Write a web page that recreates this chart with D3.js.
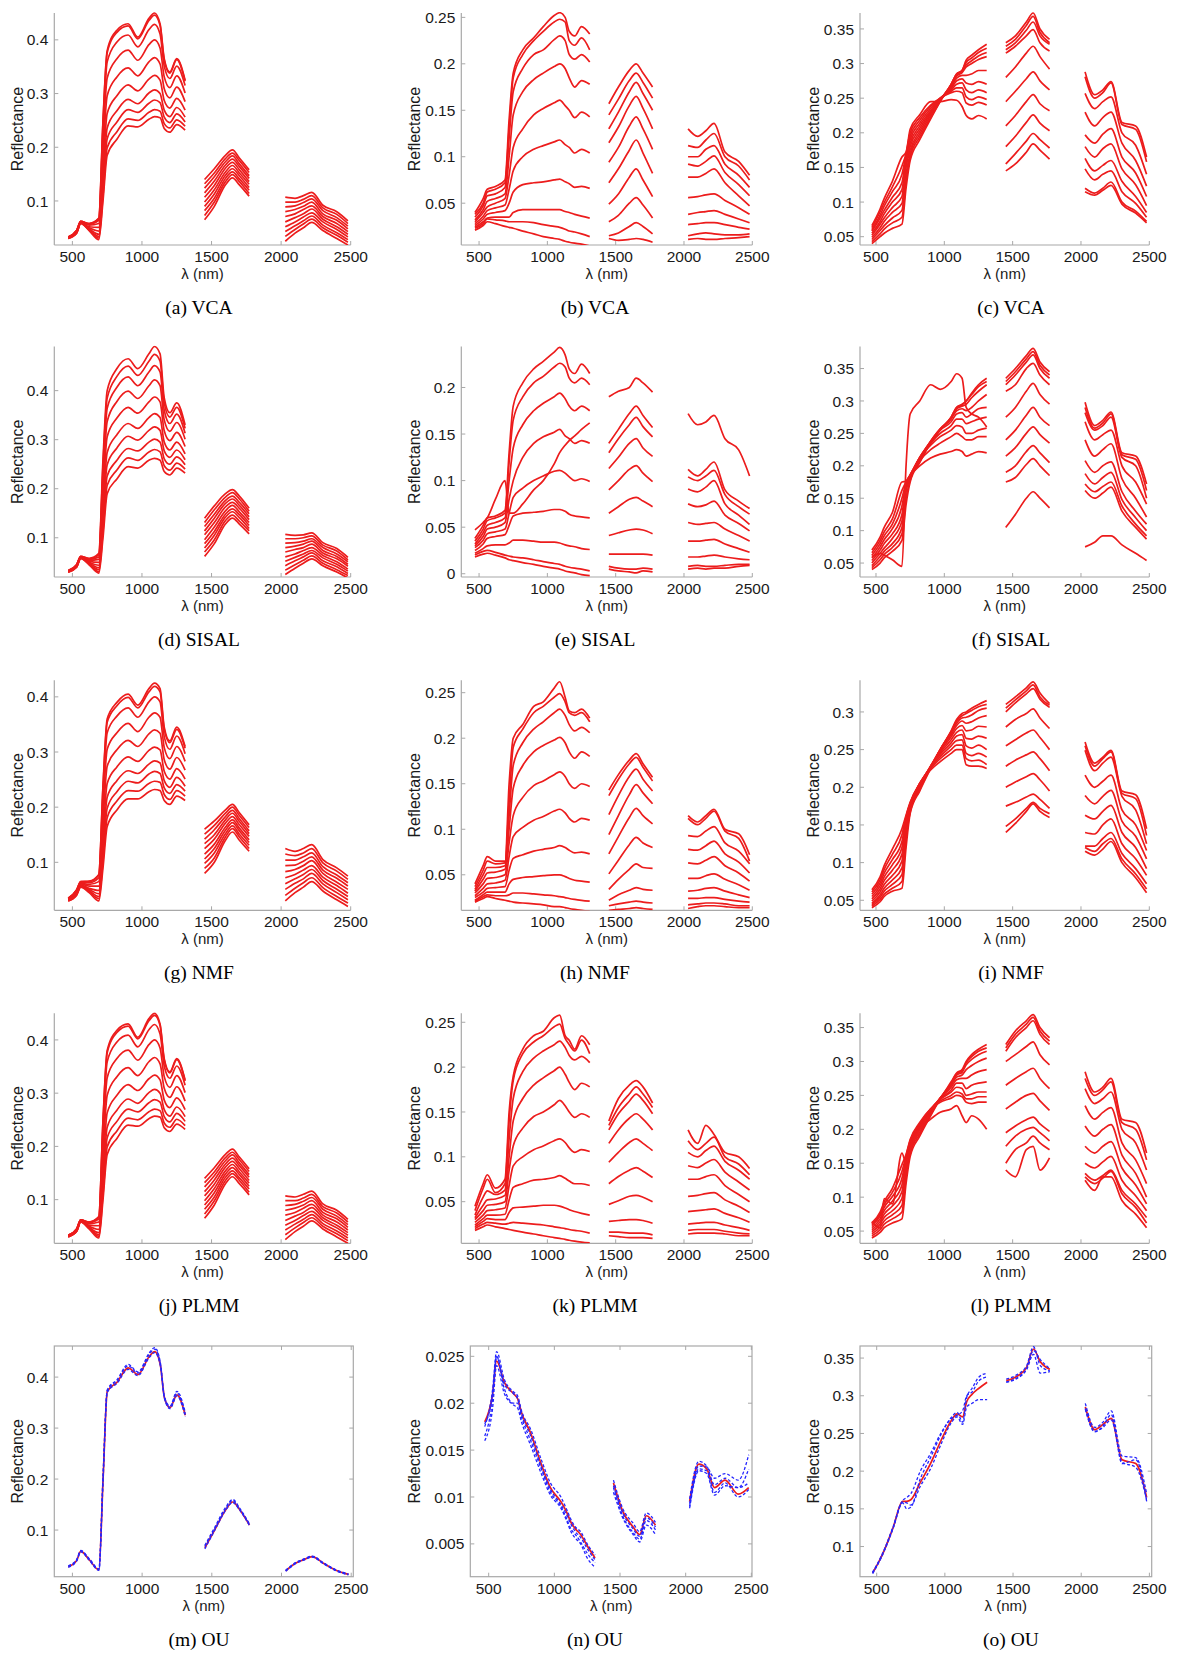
<!DOCTYPE html>
<html><head><meta charset="utf-8">
<script src="https://cdn.jsdelivr.net/npm/d3@7"></script>
<style>body{margin:0;background:#fff}svg{display:block}</style>
</head><body>
<svg id="chart" width="1179" height="1657"></svg>
<script>
// ---------- DATA ----------
const wavelengths = [470,530,560,620,690,720,750,820,900,970,1050,1090,1130,1160,1200,1250,1310,
  1450,1520,1600,1650,1700,1770,
  2030,2100,2160,2220,2300,2400,2480];
const xTickValues = [500,1000,1500,2000,2500];

const spectraA = [
[.033,.045,.062,.058,.068,.25,.38,.418,.43,.405,.44,.45,.43,.365,.34,.365,.325, .14,.16,.185,.195,.18,.158, .107,.105,.11,.116,.092,.08,.063],
[.033,.045,.062,.058,.067,.247,.376,.414,.426,.402,.436,.446,.427,.362,.338,.363,.323, .132,.152,.179,.189,.175,.153, .098,.098,.103,.11,.087,.075,.058],
[.033,.044,.062,.057,.064,.234,.359,.396,.409,.387,.419,.429,.411,.351,.328,.351,.315, .124,.145,.173,.184,.169,.147, .089,.091,.097,.104,.082,.069,.053],
[.032,.044,.061,.055,.058,.211,.329,.365,.381,.362,.391,.4,.385,.331,.311,.333,.301, .115,.137,.167,.178,.164,.142, .08,.084,.09,.098,.076,.064,.048],
[.032,.043,.06,.052,.051,.186,.296,.331,.348,.333,.359,.367,.355,.309,.292,.312,.285, .107,.129,.161,.172,.158,.136, .071,.076,.084,.091,.071,.058,.043],
[.031,.042,.06,.05,.044,.16,.263,.296,.316,.305,.327,.334,.325,.287,.273,.291,.269, .098,.121,.154,.166,.152,.131, .061,.069,.076,.085,.066,.052,.038],
[.031,.041,.059,.048,.038,.139,.236,.268,.289,.281,.301,.307,.3,.269,.257,.274,.256, .09,.113,.148,.16,.147,.125, .052,.061,.07,.078,.061,.047,.033],
[.031,.041,.059,.047,.034,.124,.216,.247,.27,.265,.282,.288,.283,.256,.246,.262,.247, .082,.105,.142,.154,.141,.12, .043,.054,.063,.072,.055,.041,.028],
[.03,.04,.058,.046,.031,.11,.199,.229,.253,.25,.265,.27,.267,.244,.236,.251,.239, .073,.098,.136,.149,.136,.114, .034,.047,.057,.066,.05,.036,.023],
[.03,.04,.058,.045,.028,.1,.185,.215,.24,.238,.252,.257,.255,.235,.228,.242,.232, .065,.09,.13,.143,.13,.109, .025,.04,.05,.06,.045,.03,.018]
];
const spectraB = [
[.04,.055,.065,.068,.075,.14,.19,.215,.228,.24,.252,.255,.25,.235,.23,.24,.232, .157,.175,.193,.2,.19,.175, .13,.122,.128,.136,.105,.095,.08],
[.038,.05,.062,.065,.072,.13,.185,.21,.225,.235,.245,.248,.245,.225,.22,.228,.215, .145,.162,.182,.19,.18,.163, .112,.11,.118,.125,.1,.09,.075],
[.035,.047,.058,.06,.067,.12,.17,.195,.21,.215,.226,.23,.225,.21,.205,.21,.202, .13,.148,.17,.18,.168,.15, .1,.1,.108,.112,.092,.08,.067],
[.032,.043,.052,.055,.06,.1,.145,.17,.183,.19,.197,.2,.195,.185,.175,.182,.178, .115,.132,.155,.165,.152,.13, .092,.09,.095,.101,.083,.07,.058],
[.03,.04,.046,.05,.055,.08,.11,.13,.145,.152,.158,.161,.155,.15,.142,.148,.143, .094,.11,.133,.143,.13,.108, .078,.078,.082,.087,.072,.058,.047],
[.028,.036,.042,.045,.048,.065,.085,.1,.108,.112,.116,.118,.113,.11,.104,.108,.104, .072,.087,.107,.118,.104,.082, .056,.057,.059,.06,.053,.045,.038],
[.026,.033,.038,.04,.042,.05,.062,.07,.072,.073,.075,.076,.073,.071,.067,.068,.066, .049,.06,.078,.087,.075,.057, .038,.04,.041,.042,.038,.033,.029],
[.024,.03,.034,.035,.035,.035,.04,.043,.043,.043,.043,.043,.041,.04,.038,.036,.034, .03,.037,.05,.056,.048,.034, .027,.028,.029,.029,.027,.024,.022],
[.023,.028,.033,.032,.031,.03,.03,.03,.029,.027,.025,.024,.022,.02,.019,.017,.014, .015,.018,.025,.029,.025,.017, .015,.017,.018,.017,.016,.016,.017],
[.021,.026,.03,.028,.025,.024,.023,.02,.017,.014,.012,.011,.009,.008,.007,.006,.004, .012,.01,.011,.012,.011,.008, .011,.012,.011,.011,.012,.013,.014]
];
const spectraC = [
[.04,.05,.055,.062,.068,.12,.16,.19,.22,.245,.27,.285,.29,.305,.312,.32,.328, .33,.34,.36,.373,.35,.335, .288,.255,.262,.274,.215,.21,.165],
[.043,.054,.061,.07,.078,.13,.165,.194,.222,.246,.27,.285,.29,.302,.308,.316,.322, .325,.335,.355,.368,.345,.33, .281,.25,.258,.272,.212,.205,.158],
[.046,.059,.066,.077,.088,.14,.17,.198,.225,.247,.27,.284,.289,.298,.304,.311,.316, .32,.33,.348,.36,.34,.328, .257,.235,.245,.252,.2,.182,.14],
[.049,.063,.072,.085,.098,.15,.175,.202,.228,.248,.268,.282,.287,.295,.3,.306,.31, .315,.325,.34,.349,.33,.318, .23,.21,.222,.23,.185,.16,.123],
[.052,.068,.077,.092,.108,.155,.18,.206,.23,.248,.266,.279,.283,.283,.285,.29,.29, .28,.295,.315,.325,.31,.292, .197,.185,.198,.206,.165,.142,.108],
[.055,.072,.083,.1,.118,.16,.185,.21,.232,.249,.264,.275,.278,.272,.27,.274,.27, .245,.26,.278,.288,.275,.262, .18,.165,.177,.184,.148,.125,.095],
[.058,.077,.088,.107,.128,.165,.19,.214,.235,.25,.262,.27,.272,.262,.258,.262,.258, .21,.225,.245,.255,.242,.232, .163,.145,.153,.16,.13,.108,.085],
[.06,.081,.094,.115,.14,.168,.195,.218,.238,.25,.26,.265,.265,.252,.248,.252,.248, .18,.195,.215,.226,.214,.203, .148,.132,.14,.145,.115,.098,.078],
[.063,.086,.099,.122,.152,.17,.2,.222,.24,.25,.258,.26,.258,.243,.24,.244,.24, .155,.17,.188,.199,.19,.178, .12,.113,.12,.129,.1,.087,.072],
[.066,.09,.105,.13,.165,.172,.205,.226,.245,.245,.248,.247,.238,.225,.22,.225,.22, .145,.155,.172,.184,.175,.162, .115,.11,.117,.124,.097,.084,.07]
];
const spectraD = [
[.033,.045,.062,.058,.068,.26,.4,.445,.465,.445,.475,.49,.475,.385,.355,.375,.33, .14,.165,.19,.198,.185,.16, .107,.105,.106,.11,.09,.078,.06],
[.033,.045,.062,.057,.065,.249,.385,.429,.45,.431,.46,.474,.46,.375,.346,.366,.323, .131,.157,.183,.192,.179,.154, .098,.098,.1,.104,.085,.073,.055],
[.032,.044,.061,.056,.061,.233,.364,.407,.428,.41,.438,.451,.438,.36,.333,.352,.313, .123,.148,.176,.185,.172,.149, .089,.09,.093,.098,.08,.067,.051],
[.032,.044,.061,.054,.056,.212,.337,.378,.399,.384,.41,.422,.41,.34,.317,.335,.301, .114,.14,.17,.179,.166,.143, .08,.083,.087,.093,.074,.062,.046],
[.032,.043,.06,.052,.05,.188,.306,.344,.366,.354,.377,.387,.377,.318,.298,.315,.286, .106,.131,.163,.172,.16,.137, .071,.076,.08,.087,.069,.057,.042],
[.031,.042,.06,.05,.044,.164,.274,.31,.333,.323,.345,.353,.345,.295,.279,.295,.271, .096,.122,.155,.166,.153,.131, .061,.067,.074,.08,.064,.051,.036],
[.031,.041,.059,.049,.039,.145,.249,.283,.307,.299,.319,.326,.319,.277,.264,.279,.259, .088,.113,.148,.159,.147,.125, .052,.06,.067,.074,.059,.046,.032],
[.031,.041,.059,.047,.035,.127,.226,.258,.282,.277,.295,.301,.295,.261,.25,.265,.249, .079,.105,.142,.153,.141,.119, .043,.053,.061,.069,.053,.041,.027],
[.03,.04,.058,.046,.031,.113,.207,.238,.263,.258,.275,.28,.275,.247,.238,.252,.24, .071,.096,.135,.146,.134,.114, .034,.045,.054,.063,.048,.035,.023],
[.03,.04,.058,.045,.028,.1,.19,.22,.245,.242,.258,.262,.258,.235,.228,.242,.232, .062,.088,.128,.14,.128,.108, .025,.038,.048,.057,.043,.03,.018]
];
const spectraE = [
[.038,.052,.06,.062,.068,.13,.18,.205,.22,.228,.238,.243,.235,.22,.215,.225,.215, .14,.155,.172,.18,.17,.157, .112,.105,.112,.12,.09,.078,.07],
[.035,.048,.057,.06,.065,.12,.165,.19,.205,.212,.222,.226,.222,.21,.205,.21,.203, .13,.145,.16,.168,.158,.147, .104,.1,.105,.111,.085,.072,.064],
[.032,.044,.052,.055,.06,.1,.135,.16,.175,.183,.19,.194,.188,.18,.175,.18,.175, .113,.125,.14,.145,.135,.126, .091,.088,.093,.1,.075,.063,.053],
[.03,.04,.048,.05,.055,.08,.1,.125,.14,.147,.152,.155,.148,.145,.14,.143,.14, .09,.1,.112,.116,.108,.099, .075,.072,.074,.078,.063,.054,.046],
[.028,.036,.043,.045,.048,.065,.082,.092,.1,.105,.11,.111,.108,.104,.1,.102,.099, .065,.072,.08,.082,.078,.072, .055,.053,.054,.055,.048,.041,.035],
[.025,.032,.038,.04,.042,.052,.062,.065,.066,.067,.069,.069,.067,.064,.062,.061,.06, .041,.044,.047,.048,.047,.043, .035,.035,.036,.037,.032,.027,.023],
[.022,.027,.03,.031,.031,.033,.036,.036,.035,.034,.034,.033,.031,.03,.029,.027,.026, .021,.021,.021,.021,.021,.02, .018,.018,.019,.02,.018,.016,.015],
[.02,.024,.025,.023,.02,.019,.018,.017,.015,.013,.011,.01,.008,.007,.006,.005,.003, .008,.006,.005,.005,.006,.005, .008,.009,.008,.008,.009,.01,.01],
[.018,.021,.022,.02,.017,.015,.014,.012,.01,.008,.006,.005,.003,.002,.001,-.001,-.002, .005,.003,.002,.001,.003,.002, .005,.006,.005,.006,.006,.008,.009],
[.047,.055,.06,.08,.1,.065,.065,.075,.09,.1,.118,.13,.138,.143,.148,.155,.162, .19,.196,.2,.21,.205,.195, .172,.16,.163,.17,.145,.133,.105]
];
const spectraF = [
[.04,.05,.058,.068,.085,.14,.175,.205,.235,.255,.275,.29,.295,.3,.312,.325,.335, .335,.35,.37,.381,.36,.345, .298,.262,.27,.283,.22,.215,.172],
[.043,.055,.063,.074,.095,.15,.178,.207,.236,.256,.275,.29,.294,.3,.31,.322,.33, .33,.345,.365,.376,.355,.34, .29,.258,.266,.28,.217,.21,.162],
[.046,.06,.068,.08,.105,.16,.18,.21,.238,.257,.274,.288,.292,.295,.305,.315,.325, .325,.34,.36,.371,.35,.335, .282,.255,.262,.275,.213,.2,.15],
[.05,.065,.073,.088,.115,.165,.182,.212,.238,.257,.272,.285,.288,.285,.29,.3,.31, .315,.325,.35,.358,.34,.325, .268,.24,.248,.255,.2,.175,.141],
[.054,.07,.08,.095,.125,.17,.184,.213,.237,.255,.268,.28,.282,.275,.28,.288,.29, .275,.29,.315,.327,.31,.295, .24,.215,.225,.234,.18,.15,.121],
[.058,.075,.086,.103,.138,.172,.185,.213,.235,.25,.262,.272,.272,.265,.268,.272,.275, .24,.255,.278,.29,.275,.262, .208,.19,.2,.206,.16,.13,.11],
[.062,.08,.092,.11,.15,.174,.186,.212,.232,.245,.255,.262,.26,.25,.25,.255,.258, .215,.228,.25,.26,.248,.235, .188,.172,.182,.19,.148,.12,.1],
[.066,.085,.098,.118,.162,.175,.186,.208,.225,.235,.245,.25,.245,.24,.24,.245,.245, .19,.2,.222,.231,.22,.205, .172,.16,.168,.175,.138,.11,.092],
[.07,.09,.105,.128,.175,.176,.185,.2,.212,.218,.222,.225,.222,.215,.218,.222,.22, .175,.182,.202,.211,.2,.185, .162,.15,.158,.167,.13,.105,.087],
[.06,.065,.062,.055,.045,.2,.28,.3,.325,.318,.33,.342,.335,.29,.28,.275,.26, .105,.125,.15,.16,.15,.135, .075,.082,.092,.092,.078,.065,.054]
];
const spectraG = [
[.035,.05,.065,.066,.078,.24,.36,.39,.405,.385,.415,.425,.415,.345,.32,.345,.31, .16,.175,.195,.205,.19,.168, .125,.12,.125,.132,.105,.09,.075],
[.035,.05,.065,.065,.077,.236,.354,.384,.399,.38,.409,.419,.409,.341,.317,.341,.307, .151,.167,.189,.2,.185,.163, .115,.112,.117,.125,.099,.084,.069],
[.034,.049,.064,.063,.072,.221,.335,.365,.38,.363,.391,.4,.391,.328,.305,.329,.297, .142,.159,.183,.194,.179,.157, .104,.104,.11,.117,.092,.077,.063],
[.034,.047,.062,.06,.065,.198,.305,.335,.352,.337,.363,.371,.363,.308,.288,.31,.283, .134,.15,.177,.189,.174,.152, .094,.095,.102,.11,.086,.071,.057],
[.033,.046,.061,.057,.057,.174,.274,.304,.321,.31,.333,.34,.334,.286,.269,.29,.267, .125,.142,.171,.183,.168,.147, .083,.087,.094,.103,.08,.064,.051],
[.032,.044,.059,.053,.049,.15,.243,.273,.291,.283,.303,.309,.304,.265,.251,.27,.251, .115,.133,.164,.177,.162,.141, .072,.078,.086,.094,.073,.058,.044],
[.031,.043,.058,.051,.043,.131,.218,.248,.266,.261,.278,.284,.28,.248,.236,.254,.238, .106,.125,.158,.172,.157,.136, .061,.07,.078,.087,.067,.051,.038],
[.031,.042,.057,.049,.038,.116,.198,.228,.247,.244,.26,.265,.261,.235,.225,.241,.229, .098,.117,.152,.166,.151,.131, .051,.062,.07,.08,.061,.045,.032],
[.03,.041,.056,.047,.034,.102,.181,.211,.23,.229,.243,.247,.245,.223,.214,.23,.22, .089,.108,.146,.161,.146,.125, .04,.053,.063,.072,.054,.038,.026],
[.03,.04,.055,.045,.03,.09,.165,.195,.215,.215,.228,.232,.23,.212,.205,.22,.212, .08,.1,.14,.155,.14,.12, .03,.045,.055,.065,.048,.032,.02]
];
const spectraH = [
[.04,.06,.07,.065,.065,.15,.2,.215,.235,.24,.255,.262,.245,.23,.228,.232,.222, .143,.16,.176,.183,.172,.157, .115,.108,.115,.122,.1,.095,.072],
[.037,.055,.065,.062,.063,.13,.19,.21,.228,.235,.245,.249,.24,.228,.225,.228,.218, .137,.155,.172,.179,.168,.153, .112,.105,.112,.12,.098,.09,.065],
[.034,.05,.058,.058,.06,.115,.17,.195,.21,.218,.228,.232,.225,.215,.208,.212,.206, .116,.137,.158,.166,.155,.142, .093,.092,.098,.103,.085,.076,.062],
[.032,.045,.052,.053,.056,.1,.145,.17,.185,.192,.198,.201,.195,.185,.178,.185,.18, .094,.115,.138,.149,.14,.128, .078,.077,.082,.087,.073,.064,.052],
[.03,.04,.046,.047,.05,.085,.115,.135,.148,.153,.16,.163,.158,.15,.145,.15,.147, .073,.092,.113,.123,.115,.106, .063,.062,.066,.07,.06,.052,.043],
[.027,.035,.04,.041,.044,.07,.092,.102,.11,.114,.12,.122,.118,.112,.108,.112,.11, .051,.066,.083,.091,.085,.08, .046,.046,.049,.051,.045,.039,.033],
[.025,.031,.035,.036,.037,.055,.068,.072,.076,.078,.08,.082,.08,.077,.074,.075,.073, .034,.045,.056,.062,.058,.057, .032,.033,.035,.036,.032,.028,.025],
[.022,.028,.031,.031,.031,.04,.045,.047,.048,.049,.05,.05,.048,.046,.044,.043,.042, .022,.028,.033,.036,.034,.033, .024,.024,.025,.025,.023,.021,.02],
[.021,.026,.028,.027,.027,.028,.03,.03,.029,.028,.027,.026,.025,.024,.023,.022,.021, .016,.018,.02,.021,.02,.019, .017,.018,.019,.019,.018,.016,.016],
[.02,.024,.026,.024,.022,.021,.02,.019,.018,.017,.015,.015,.014,.013,.012,.011,.01, .011,.012,.013,.014,.013,.012, .013,.015,.016,.016,.015,.014,.014]
];
const spectraI = [
[.04,.048,.055,.062,.066,.12,.165,.195,.225,.25,.275,.29,.298,.3,.305,.31,.315, .31,.32,.332,.34,.325,.311, .26,.232,.24,.249,.195,.19,.145],
[.042,.051,.058,.066,.075,.13,.167,.197,.226,.25,.274,.288,.295,.298,.302,.307,.31, .305,.316,.328,.336,.32,.309, .255,.228,.238,.247,.192,.185,.136],
[.044,.054,.062,.071,.084,.137,.169,.199,.227,.25,.273,.285,.292,.293,.296,.302,.305, .3,.312,.324,.331,.317,.306, .249,.222,.232,.24,.188,.17,.125],
[.046,.057,.066,.077,.093,.143,.171,.2,.228,.25,.27,.282,.288,.285,.287,.292,.295, .28,.29,.298,.304,.292,.278, .216,.2,.208,.216,.17,.15,.116],
[.049,.061,.071,.083,.102,.148,.173,.202,.228,.248,.267,.278,.282,.275,.276,.281,.28, .255,.263,.272,.276,.266,.25, .189,.178,.188,.196,.155,.135,.105],
[.052,.065,.076,.09,.111,.152,.175,.203,.228,.246,.263,.273,.276,.265,.264,.268,.265, .228,.236,.243,.247,.238,.222, .163,.158,.168,.176,.14,.12,.092],
[.055,.069,.081,.097,.12,.156,.177,.204,.227,.244,.259,.268,.27,.255,.252,.256,.25, .2,.207,.214,.218,.21,.195, .14,.138,.15,.158,.125,.105,.083],
[.058,.073,.086,.104,.128,.159,.178,.205,.226,.241,.255,.262,.263,.245,.242,.245,.24, .175,.18,.187,.191,.184,.172, .122,.122,.132,.14,.112,.092,.072],
[.061,.077,.091,.111,.137,.161,.179,.205,.225,.238,.25,.256,.256,.238,.235,.236,.23, .148,.158,.172,.18,.172,.165, .12,.115,.125,.132,.105,.085,.065],
[.064,.081,.096,.118,.145,.163,.18,.205,.223,.234,.245,.25,.25,.23,.228,.228,.225, .14,.152,.168,.178,.168,.16, .115,.11,.118,.128,.1,.08,.06]
];
const spectraJ = [
[.033,.045,.062,.058,.068,.25,.38,.418,.43,.405,.44,.45,.43,.365,.34,.365,.325, .14,.16,.185,.195,.18,.158, .107,.105,.11,.116,.092,.08,.063],
[.033,.045,.062,.058,.067,.247,.376,.414,.426,.402,.436,.446,.427,.362,.338,.363,.323, .132,.152,.179,.189,.175,.153, .098,.098,.103,.11,.087,.075,.058],
[.033,.044,.062,.057,.064,.234,.359,.396,.409,.387,.419,.429,.411,.351,.328,.351,.315, .124,.145,.173,.184,.169,.147, .089,.091,.097,.104,.082,.069,.053],
[.032,.044,.061,.055,.058,.211,.329,.365,.381,.362,.391,.4,.385,.331,.311,.333,.301, .115,.137,.167,.178,.164,.142, .08,.084,.09,.098,.076,.064,.048],
[.032,.043,.06,.052,.051,.186,.296,.331,.348,.333,.359,.367,.355,.309,.292,.312,.285, .107,.129,.161,.172,.158,.136, .071,.076,.084,.091,.071,.058,.043],
[.031,.042,.06,.05,.044,.16,.263,.296,.316,.305,.327,.334,.325,.287,.273,.291,.269, .098,.121,.154,.166,.152,.131, .061,.069,.076,.085,.066,.052,.038],
[.031,.041,.059,.048,.038,.139,.236,.268,.289,.281,.301,.307,.3,.269,.257,.274,.256, .09,.113,.148,.16,.147,.125, .052,.061,.07,.078,.061,.047,.033],
[.031,.041,.059,.047,.034,.124,.216,.247,.27,.265,.282,.288,.283,.256,.246,.262,.247, .082,.105,.142,.154,.141,.12, .043,.054,.063,.072,.055,.041,.028],
[.03,.04,.058,.046,.031,.11,.199,.229,.253,.25,.265,.27,.267,.244,.236,.251,.239, .073,.098,.136,.149,.136,.114, .034,.047,.057,.066,.05,.036,.023],
[.03,.04,.058,.045,.028,.1,.185,.215,.24,.238,.252,.257,.255,.235,.228,.242,.232, .065,.09,.13,.143,.13,.109, .025,.04,.05,.06,.045,.03,.018]
];
const spectraK = [
[.045,.07,.08,.065,.075,.15,.19,.22,.235,.24,.255,.258,.235,.23,.22,.235,.225, .14,.165,.18,.185,.178,.16, .13,.115,.135,.125,.105,.1,.087],
[.04,.065,.075,.06,.07,.14,.185,.215,.228,.235,.245,.248,.232,.225,.218,.23,.215, .135,.155,.17,.178,.17,.155, .118,.108,.115,.122,.1,.092,.08],
[.035,.055,.062,.058,.063,.12,.165,.195,.21,.218,.225,.229,.222,.213,.208,.212,.205, .13,.148,.162,.17,.163,.148, .105,.1,.107,.112,.095,.085,.075],
[.032,.046,.052,.053,.057,.1,.14,.165,.18,.188,.196,.2,.192,.183,.175,.182,.178, .115,.13,.143,.148,.142,.13, .09,.088,.093,.097,.083,.072,.063],
[.03,.04,.046,.047,.05,.085,.112,.132,.145,.15,.158,.163,.157,.15,.144,.148,.144, .094,.105,.116,.12,.115,.107, .075,.075,.078,.08,.068,.058,.05],
[.027,.035,.04,.041,.043,.068,.09,.1,.108,.112,.118,.12,.116,.11,.105,.108,.106, .07,.078,.085,.088,.084,.077, .056,.057,.059,.06,.052,.045,.038],
[.024,.031,.035,.035,.036,.052,.066,.07,.074,.075,.077,.079,.076,.073,.07,.07,.068, .047,.051,.056,.057,.055,.05, .039,.04,.041,.042,.037,.032,.027],
[.022,.028,.031,.03,.03,.038,.043,.044,.045,.046,.046,.045,.043,.041,.039,.037,.035, .028,.029,.03,.03,.029,.026, .025,.026,.027,.027,.024,.021,.018],
[.02,.025,.027,.026,.025,.026,.027,.026,.025,.024,.022,.021,.02,.019,.018,.017,.015, .016,.016,.015,.015,.015,.013, .018,.019,.019,.019,.017,.015,.014],
[.018,.022,.024,.022,.02,.019,.018,.016,.014,.012,.01,.009,.008,.007,.006,.005,.004, .012,.011,.01,.01,.01,.009, .014,.015,.015,.015,.014,.012,.012]
];
const spectraL = [
[.04,.048,.055,.062,.068,.12,.16,.19,.22,.245,.27,.283,.288,.3,.31,.318,.325, .325,.345,.36,.369,.35,.335, .285,.255,.262,.275,.215,.21,.165],
[.043,.052,.06,.068,.078,.13,.165,.193,.222,.245,.268,.282,.286,.298,.307,.315,.32, .32,.34,.355,.365,.345,.33, .275,.25,.258,.27,.21,.2,.155],
[.046,.056,.065,.074,.088,.138,.168,.196,.224,.246,.267,.28,.284,.295,.303,.31,.315, .315,.335,.35,.36,.34,.325, .26,.238,.245,.255,.2,.18,.14],
[.049,.06,.07,.08,.098,.145,.172,.2,.226,.246,.265,.277,.28,.288,.294,.3,.305, .3,.31,.322,.329,.31,.295, .235,.215,.225,.232,.18,.155,.12],
[.052,.064,.075,.087,.108,.15,.175,.203,.228,.246,.262,.273,.275,.275,.28,.285,.288, .265,.275,.285,.29,.275,.26, .205,.19,.2,.207,.162,.135,.1],
[.055,.068,.08,.094,.118,.155,.178,.205,.229,.245,.258,.268,.268,.26,.265,.268,.27, .23,.24,.25,.253,.242,.228, .175,.165,.175,.182,.143,.118,.09],
[.058,.072,.085,.101,.128,.158,.181,.207,.23,.244,.255,.262,.26,.25,.252,.255,.255, .195,.205,.214,.218,.208,.197, .15,.143,.152,.16,.125,.102,.08],
[.06,.075,.089,.107,.138,.161,.183,.208,.23,.242,.25,.255,.252,.245,.245,.248,.248, .175,.19,.2,.203,.195,.183, .135,.125,.132,.14,.11,.09,.07],
[.062,.078,.093,.113,.148,.163,.185,.21,.23,.24,.246,.25,.248,.24,.238,.24,.24, .15,.17,.18,.19,.18,.17, .13,.12,.128,.138,.105,.085,.062],
[.064,.055,.098,.09,.165,.15,.17,.2,.215,.225,.23,.235,.22,.21,.22,.215,.2, .14,.13,.17,.175,.14,.158, .125,.11,.13,.13,.095,.075,.055]
];
// OU panels: first row = reference (red, solid), following rows = estimates (blue, dashed)
const spectraM = [
[.028,.04,.058,.042,.022,.2,.372,.39,.418,.405,.44,.45,.425,.36,.34,.365,.325, .065,.1,.14,.155,.14,.11, .02,.035,.042,.048,.035,.02,.013],
[.03,.042,.06,.044,.024,.21,.375,.395,.425,.41,.447,.458,.43,.362,.343,.372,.33, .07,.105,.145,.16,.143,.112, .021,.036,.043,.049,.036,.021,.014],
[.029,.041,.059,.043,.023,.205,.373,.393,.422,.408,.444,.455,.428,.36,.341,.369,.327, .068,.102,.142,.158,.141,.111, .02,.035,.043,.048,.035,.02,.013],
[.027,.039,.057,.041,.021,.195,.37,.388,.415,.403,.438,.448,.423,.358,.338,.363,.322, .063,.099,.139,.154,.139,.109, .019,.034,.041,.047,.034,.019,.012]
];
const spectraN = [
[.018,.021,.0245,.0222,.021,.0205,.019,.0168,.0135,.011,.0095,.0085,.0072,.0066,.006,.0048,.0035, .0115,.0085,.0068,.006,.008,.007, .0095,.0135,.013,.011,.0118,.0103,.011],
[.0165,.0205,.025,.0215,.02,.02,.0185,.016,.013,.0105,.009,.0078,.0065,.006,.0052,.004,.003, .011,.008,.0062,.0055,.0075,.0065, .009,.013,.0128,.0105,.0115,.01,.0108],
[.0175,.0215,.0255,.0225,.0212,.0208,.0192,.0172,.014,.0115,.01,.0088,.0075,.0068,.0063,.005,.0038, .0118,.0088,.0072,.0063,.0083,.0073, .0098,.0138,.0133,.0113,.012,.011,.0115],
[.016,.0195,.024,.021,.0198,.0195,.018,.0155,.0125,.0102,.0088,.0076,.0062,.0056,.005,.0035,.0025, .0105,.0078,.006,.0052,.007,.006, .0088,.0128,.0125,.0102,.0112,.011,.013],
[.0178,.021,.025,.022,.021,.0205,.0188,.0165,.0132,.0108,.0092,.0082,.007,.0063,.0057,.0045,.0033, .0112,.0083,.0066,.0058,.0078,.0068, .0093,.0133,.0132,.012,.0125,.0118,.0145]
];
const spectraO = [
[.065,.085,.097,.125,.16,.16,.162,.185,.212,.24,.268,.276,.272,.292,.302,.31,.318, .32,.325,.338,.362,.345,.335, .285,.255,.262,.27,.215,.21,.165],
[.066,.086,.098,.126,.158,.15,.152,.19,.22,.248,.272,.278,.265,.298,.31,.325,.33, .322,.327,.34,.365,.34,.333, .29,.258,.265,.28,.22,.218,.17],
[.064,.084,.096,.124,.161,.165,.17,.2,.225,.25,.27,.274,.28,.3,.305,.32,.325, .318,.323,.336,.36,.348,.336, .282,.252,.26,.275,.21,.215,.16],
[.065,.085,.097,.125,.159,.158,.155,.18,.205,.235,.265,.272,.262,.285,.29,.295,.295, .318,.322,.335,.355,.33,.332, .283,.253,.258,.268,.212,.205,.162]
];

const yTicks4 = [0.1,0.2,0.3,0.4];
const yTicks25 = [0.05,0.1,0.15,0.2,0.25];
const yTicks35 = [0.05,0.1,0.15,0.2,0.25,0.3,0.35];
const yTicks30 = [0.05,0.1,0.15,0.2,0.25,0.3];
const yTicksE = [0,0.05,0.1,0.15,0.2];
const yTicksN = [0.005,0.01,0.015,0.02,0.025];
const yTicksO = [0.1,0.15,0.2,0.25,0.3,0.35];

const captions = ["(a) VCA","(b) VCA","(c) VCA","(d) SISAL","(e) SISAL","(f) SISAL",
  "(g) NMF","(h) NMF","(i) NMF","(j) PLMM","(k) PLMM","(l) PLMM","(m) OU","(n) OU","(o) OU"];
const yDomains = [[0.018,0.45],[0.005,0.2547],[0.038,0.373],
  [0.02,0.49],[-0.0035,0.244],[0.0285,0.384],
  [0.013,0.43],[0.011,0.2636],[0.0367,0.342],
  [0.018,0.45],[0.0036,0.26],[0.032,0.371],
  [0.0085,0.461],[0.0015,0.0261],[0.06,0.366]];
const xDomains = [[370,2500],[370,2500],[383,2500],[370,2500],[370,2500],[383,2500],
  [370,2500],[370,2500],[383,2500],[370,2500],[370,2500],[383,2500],
  [370,2515],[360,2505],[377.5,2517]];
const allSpectra = [spectraA,spectraB,spectraC,spectraD,spectraE,spectraF,spectraG,spectraH,
  spectraI,spectraJ,spectraK,spectraL,spectraM,spectraN,spectraO];
const allYTicks = [yTicks4,yTicks25,yTicks35,yTicks4,yTicksE,yTicks35,yTicks4,yTicks25,yTicks30,
  yTicks4,yTicks25,yTicks35,yTicks4,yTicksN,yTicksO];

// ---------- LAYOUT ----------
const rowsY = [[13,245],[346.5,577],[680.3,910.3],[1013.3,1243.3],[1346,1576.7]];
const colsX = [[54.3,350.7],[461.3,752.3],[860,1149.3]];
const row5X = [[54.3,353.3],[470.3,752],[860,1151.7]];
const ylabOffset = [[37,47,46.5],[37,56,46.5]];
const capX = [199,595,1011];

const svg = d3.select("#chart");
const red = "#ec1c1c", blue = "#2424ff", axisCol = "#a8a8a8";
const fmt = d3.format("~g");
const sans = "'Liberation Sans', Arial, sans-serif";

allSpectra.forEach((spectra, p) => {
  const row = Math.floor(p/3), col = p%3;
  const isOU = row === 4;
  const [L, R] = isOU ? row5X[col] : colsX[col];
  const [T, B] = rowsY[row];
  const x = d3.scaleLinear().domain(xDomains[p]).range([L, R]);
  const y = d3.scaleLinear().domain(yDomains[p]).range([B, T]);
  const g = svg.append("g");
  const clipId = "clip" + p;
  g.append("clipPath").attr("id", clipId).append("rect")
    .attr("x", L).attr("y", T-1).attr("width", R-L).attr("height", B-T+1);

  if (isOU) {
    g.append("rect").attr("x", L).attr("y", T).attr("width", R-L).attr("height", B-T)
      .attr("fill","none").attr("stroke", axisCol).attr("stroke-width",1.2);
  } else {
    g.append("line").attr("x1",L).attr("x2",L).attr("y1",T).attr("y2",B).attr("stroke",axisCol).attr("stroke-width",1.2);
    g.append("line").attr("x1",L).attr("x2",R).attr("y1",B).attr("y2",B).attr("stroke",axisCol).attr("stroke-width",1.2);
  }
  const tl = 4;
  xTickValues.forEach(v => {
    const px = x(v);
    if (px > R + 0.5) return;
    g.append("line").attr("x1",px).attr("x2",px).attr("y1",B).attr("y2",B-tl).attr("stroke",axisCol);
    if (isOU) g.append("line").attr("x1",px).attr("x2",px).attr("y1",T).attr("y2",T+tl).attr("stroke",axisCol);
    g.append("text").attr("x",px).attr("y",B+17).attr("text-anchor","middle")
      .attr("font-family",sans).attr("font-size",15.5).attr("fill","#1a1a1a")
      .text(fmt(v));
  });
  allYTicks[p].forEach(v => {
    const py = y(v);
    g.append("line").attr("x1",L).attr("x2",L+tl).attr("y1",py).attr("y2",py).attr("stroke",axisCol);
    if (isOU) g.append("line").attr("x1",R).attr("x2",R-tl).attr("y1",py).attr("y2",py).attr("stroke",axisCol);
    g.append("text").attr("x",L-6).attr("y",py).attr("dy","0.36em").attr("text-anchor","end")
      .attr("font-family",sans).attr("font-size",15.5).attr("fill","#1a1a1a")
      .text(fmt(v));
  });
  g.append("text").attr("x",(L+R)/2).attr("y",B+34).attr("text-anchor","middle")
    .attr("font-family",sans).attr("font-size",15).attr("fill","#1a1a1a")
    .text("λ (nm)");
  const yl = L - ylabOffset[isOU?1:0][col];
  g.append("text").attr("transform",`translate(${yl},${(T+B)/2}) rotate(-90)`).attr("dy","0.35em")
    .attr("text-anchor","middle")
    .attr("font-family",sans).attr("font-size",16).attr("fill","#1a1a1a")
    .text("Reflectance");
  g.append("text").attr("x",capX[col]).attr("y",B+69).attr("text-anchor","middle")
    .attr("font-family","'Liberation Serif', 'Times New Roman', serif").attr("font-size",19.5).attr("fill","#000")
    .text(captions[p]);

  const line = d3.line().x(d => x(d[0])).y(d => y(d[1])).curve(d3.curveMonotoneX);
  const plot = g.append("g").attr("clip-path", `url(#${clipId})`);
  const segmentsOf = vals => {
    const segs = []; let cur = [];
    vals.forEach((v,i) => {
      if (i > 0 && wavelengths[i] - wavelengths[i-1] > 100) { segs.push(cur); cur = []; }
      cur.push([wavelengths[i], v]);
    });
    segs.push(cur);
    return segs;
  };
  spectra.forEach((vals, ci) => {
    const isBlue = isOU && ci > 0;
    segmentsOf(vals).forEach(seg => {
      plot.append("path").attr("d", line(seg)).attr("fill","none")
        .attr("stroke", isBlue ? blue : red)
        .attr("stroke-width", isBlue ? 1.3 : 1.7)
        .attr("stroke-dasharray", isBlue ? "3,2" : null)
        .attr("stroke-linejoin","round");
    });
  });
});
</script>
</body></html>
